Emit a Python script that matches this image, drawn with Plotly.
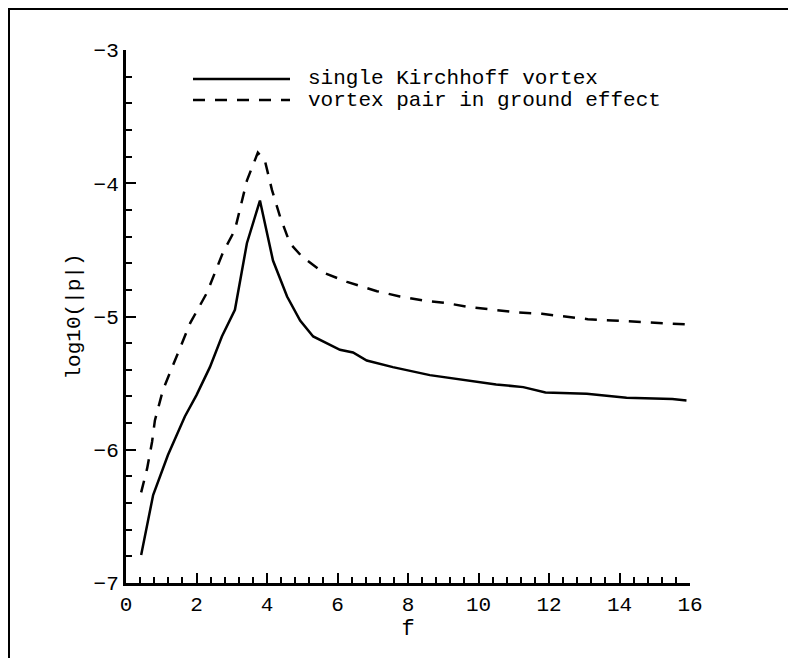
import plotly.graph_objects as go

# single Kirchhoff vortex
f_single = [0.43, 0.77, 1.19, 1.67, 2.0, 2.38, 2.72, 3.09, 3.43, 3.80, 4.17, 4.57, 4.94,
            5.31, 6.07, 6.44, 6.83, 7.57, 8.62, 9.67, 10.5, 11.27, 11.9, 13.07, 14.2,
            15.5, 15.9]
logp_single = [-6.79, -6.34, -6.04, -5.75, -5.59, -5.38, -5.15, -4.95, -4.45, -4.13, -4.58,
               -4.85, -5.03, -5.15, -5.25, -5.27, -5.33, -5.38, -5.44, -5.48, -5.51, -5.53,
               -5.57, -5.58, -5.61, -5.62, -5.63]

# vortex pair in ground effect
f_pair = [0.43, 0.60, 0.74, 0.82, 1.05, 1.82, 2.30, 2.75, 3.09, 3.29, 3.43, 3.74, 3.94,
          4.14, 4.37, 4.65, 4.99, 5.59, 6.27, 7.12, 7.77, 8.43, 9.1, 9.76, 10.47, 11.12,
          11.8, 12.45, 13.1, 13.8, 14.5, 15.15, 15.95]
logp_pair = [-6.32, -6.14, -5.94, -5.78, -5.55, -5.05, -4.82, -4.52, -4.35, -4.14, -3.98,
             -3.77, -3.83, -4.05, -4.25, -4.45, -4.55, -4.67, -4.74, -4.81, -4.85, -4.88,
             -4.90, -4.93, -4.95, -4.97, -4.98, -5.00, -5.02, -5.03, -5.04, -5.05, -5.06]

legend_labels = ["single Kirchhoff vortex", "vortex pair in ground effect"]

W, H = 788, 658
L, R, T, B = 126, 788 - 690, 50, 658 - 583
PW, PH = W - L - R, H - T - B


def px(x):
    return (x - L) / PW


def py(y):
    return (H - B - y) / PH


MONO = "Liberation Mono"
DASH = "12px,10px"

fig = go.Figure()

fig.add_trace(go.Scatter(x=f_single, y=logp_single, mode="lines",
                         line=dict(color="black", width=2.5), showlegend=False))
fig.add_trace(go.Scatter(x=f_pair, y=logp_pair, mode="lines",
                         line=dict(color="black", width=2.5, dash=DASH),
                         showlegend=False))

# outer frame (only left and top edges show)
fig.add_shape(type="line", xref="paper", yref="paper", x0=px(8), y0=py(9), x1=px(800), y1=py(9),
              line=dict(color="black", width=2))
fig.add_shape(type="line", xref="paper", yref="paper", x0=px(9), y0=py(8), x1=px(9), y1=py(670),
              line=dict(color="black", width=2))

# hand-drawn legend
fig.add_shape(type="line", xref="paper", yref="paper", x0=px(193), x1=px(290), y0=py(79), y1=py(79),
              line=dict(color="black", width=2.5))
fig.add_shape(type="line", xref="paper", yref="paper", x0=px(193), x1=px(290), y0=py(100), y1=py(100),
              line=dict(color="black", width=2.5, dash=DASH))
for lbl, yy in zip(legend_labels, [79, 100]):
    fig.add_annotation(x=px(306), y=py(yy), xref="paper", yref="paper", text=lbl,
                       showarrow=False, xanchor="left", yanchor="middle",
                       font=dict(family=MONO, size=21, color="black"))

fig.update_xaxes(
    range=[0, 16], dtick=2, tick0=0,
    showline=True, linecolor="black", linewidth=3,
    ticks="inside", ticklen=10, tickwidth=2, tickcolor="black",
    minor=dict(dtick=0.4, ticks="inside", ticklen=6, tickwidth=1.5, tickcolor="black"),
    showgrid=False, zeroline=False,
    tickfont=dict(family=MONO, size=21, color="black"),
    title=dict(text="f", font=dict(family=MONO, size=22, color="black"), standoff=4),
)
fig.update_yaxes(
    range=[-7, -3], dtick=1, tick0=-7,
    showline=True, linecolor="black", linewidth=3,
    ticks="inside", ticklen=10, tickwidth=2, tickcolor="black",
    minor=dict(dtick=0.2, ticks="inside", ticklen=6, tickwidth=1.5, tickcolor="black"),
    showgrid=False, zeroline=False,
    tickfont=dict(family=MONO, size=21, color="black"),
    title=dict(text="log10(|p|)", font=dict(family=MONO, size=21, color="black"), standoff=8),
)

fig.update_layout(
    width=W, height=H,
    margin=dict(l=L, r=R, t=T, b=B),
    paper_bgcolor="white", plot_bgcolor="white",
)

# drop the page margin and scrollbars so the figure fills the window exactly
js = ("document.body.style.margin='0';"
      "document.body.style.overflow='hidden';"
      "document.documentElement.style.overflow='hidden';")
fig.write_html("out.html", config={"displayModeBar": False}, post_script=js)
